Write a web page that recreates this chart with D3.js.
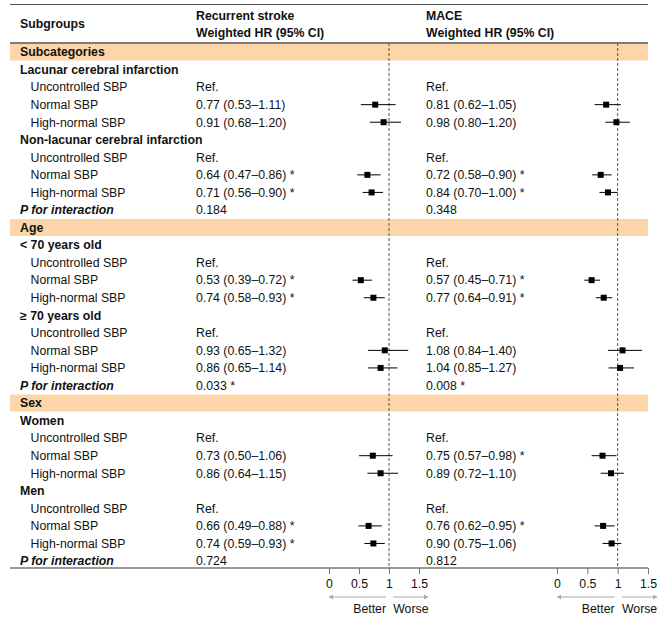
<!DOCTYPE html>
<html>
<head>
<meta charset="utf-8">
<script src="https://cdn.jsdelivr.net/npm/d3@7"></script>
<style>
  body { margin: 0; background: #fff; }
  svg text { font-family: "Liberation Sans", Arial, sans-serif; font-size: 12.3px; fill: #111; }
</style>
</head>
<body>
<svg id="forest" width="666" height="622"></svg>
<script>
// rows of the table
let rowLabels = ['Subcategories', 'Lacunar cerebral infarction', 'Uncontrolled SBP', 'Normal SBP', 'High-normal SBP',
    'Non-lacunar cerebral infarction', 'Uncontrolled SBP', 'Normal SBP', 'High-normal SBP', 'P for interaction',
    'Age', '< 70 years old', 'Uncontrolled SBP', 'Normal SBP', 'High-normal SBP',
    '\u2265 70 years old', 'Uncontrolled SBP', 'Normal SBP', 'High-normal SBP', 'P for interaction',
    'Sex', 'Women', 'Uncontrolled SBP', 'Normal SBP', 'High-normal SBP',
    'Men', 'Uncontrolled SBP', 'Normal SBP', 'High-normal SBP', 'P for interaction'];
let rowTypes = ['band', 'group', 'ref', 'hr', 'hr', 'group', 'ref', 'hr', 'hr', 'p',
    'band', 'group', 'ref', 'hr', 'hr', 'group', 'ref', 'hr', 'hr', 'p',
    'band', 'group', 'ref', 'hr', 'hr', 'group', 'ref', 'hr', 'hr', 'p'];

// recurrent stroke
let strokeHR = [null, null, null, 0.77, 0.91, null, null, 0.64, 0.71, null,
    null, null, null, 0.53, 0.74, null, null, 0.93, 0.86, null,
    null, null, null, 0.73, 0.86, null, null, 0.66, 0.74, null];
let strokeLo = [null, null, null, 0.53, 0.68, null, null, 0.47, 0.56, null,
    null, null, null, 0.39, 0.58, null, null, 0.65, 0.65, null,
    null, null, null, 0.50, 0.64, null, null, 0.49, 0.59, null];
let strokeHi = [null, null, null, 1.11, 1.20, null, null, 0.86, 0.90, null,
    null, null, null, 0.72, 0.93, null, null, 1.32, 1.14, null,
    null, null, null, 1.06, 1.15, null, null, 0.88, 0.93, null];
let strokeSig = [0, 0, 0, 0, 0, 0, 0, 1, 1, 0,
    0, 0, 0, 1, 1, 0, 0, 0, 0, 1,
    0, 0, 0, 0, 0, 0, 0, 1, 1, 0];
let strokeP = {9: '0.184', 19: '0.033', 29: '0.724'};

// MACE
let maceHR = [null, null, null, 0.81, 0.98, null, null, 0.72, 0.84, null,
    null, null, null, 0.57, 0.77, null, null, 1.08, 1.04, null,
    null, null, null, 0.75, 0.89, null, null, 0.76, 0.90, null];
let maceLo = [null, null, null, 0.62, 0.80, null, null, 0.58, 0.70, null,
    null, null, null, 0.45, 0.64, null, null, 0.84, 0.85, null,
    null, null, null, 0.57, 0.72, null, null, 0.62, 0.75, null];
let maceHi = [null, null, null, 1.05, 1.20, null, null, 0.90, 1.00, null,
    null, null, null, 0.71, 0.91, null, null, 1.40, 1.27, null,
    null, null, null, 0.98, 1.10, null, null, 0.95, 1.06, null];
let maceSig = [0, 0, 0, 0, 0, 0, 0, 1, 1, 0,
    0, 0, 0, 1, 1, 0, 0, 0, 0, 1,
    0, 0, 0, 1, 0, 0, 0, 1, 0, 0];
let maceP = {9: '0.348', 19: '0.008', 29: '0.812'};

let tickVals = [0, 0.5, 1, 1.5];

let svg = d3.select('#forest');
let left = 10, right = 648;
let axisY = 568;

let y = d3.scaleLinear().domain([0, rowLabels.length - 1]).range([52, 561]);
let xL = d3.scaleLinear().domain([0, 1.5]).range([329, 419]);
let xR = d3.scaleLinear().domain([0, 1.5]).range([557, 648]);

let fmt = d3.format('.2f');

// bands
svg.selectAll('.band')
    .data(rowLabels.map((d, i) => i).filter(i => rowTypes[i] == 'band'))
    .join('rect')
    .attr('class', 'band')
    .attr('x', left)
    .attr('width', right - left)
    .attr('y', d => y(d) - 8.5)
    .attr('height', 17)
    .style('fill', '#fcd6a9');

// top lines
svg.append('line').attr('x1', left).attr('x2', right).attr('y1', 4.5).attr('y2', 4.5)
    .attr('stroke', '#555').attr('stroke-width', 1.2);
svg.append('line').attr('x1', left).attr('x2', right).attr('y1', 43).attr('y2', 43)
    .attr('stroke', '#555').attr('stroke-width', 1.5);

// header
svg.append('text').attr('x', 20).attr('y', 24).attr('dy', '0.35em')
    .attr('font-weight', 'bold').text('Subgroups');
[['Recurrent stroke', 196], ['MACE', 426]].forEach(h => {
    svg.append('text').attr('x', h[1]).attr('y', 15.5).attr('dy', '0.35em')
        .attr('font-weight', 'bold').text(h[0]);
    svg.append('text').attr('x', h[1]).attr('y', 33).attr('dy', '0.35em')
        .attr('font-weight', 'bold').text('Weighted HR (95% CI)');
});

// row labels
svg.selectAll('.lab')
    .data(rowLabels)
    .join('text')
    .attr('class', 'lab')
    .attr('x', (d, i) => (rowTypes[i] == 'ref' || rowTypes[i] == 'hr') ? 30.5 : 20)
    .attr('y', (d, i) => y(i))
    .attr('dy', '0.35em')
    .attr('font-weight', (d, i) => (rowTypes[i] == 'ref' || rowTypes[i] == 'hr') ? 'normal' : 'bold')
    .attr('font-style', (d, i) => rowTypes[i] == 'p' ? 'italic' : 'normal')
    .text(d => d);

// one forest panel
function panel(hr, lo, hi, sig, pv, textX, x) {
    let texts = rowLabels.map((d, i) => {
        if (rowTypes[i] == 'ref') return 'Ref.';
        if (rowTypes[i] == 'hr') return fmt(hr[i]) + ' (' + fmt(lo[i]) + '\u2013' + fmt(hi[i]) + ')' + (sig[i] ? ' *' : '');
        if (rowTypes[i] == 'p') return pv[i] + (sig[i] ? ' *' : '');
        return '';
    });

    let g = svg.append('g');

    g.selectAll('text.val')
        .data(texts)
        .join('text')
        .attr('class', 'val')
        .attr('x', textX)
        .attr('y', (d, i) => y(i))
        .attr('dy', '0.35em')
        .text(d => d);

    // reference line at HR = 1
    g.append('line')
        .attr('x1', x(1)).attr('x2', x(1))
        .attr('y1', 43).attr('y2', axisY)
        .attr('stroke', '#555').attr('stroke-dasharray', '3,2');

    let idx = hr.map((d, i) => i).filter(i => hr[i] != null);

    g.selectAll('line.ci')
        .data(idx)
        .join('line')
        .attr('class', 'ci')
        .attr('x1', i => x(lo[i])).attr('x2', i => x(hi[i]))
        .attr('y1', i => y(i)).attr('y2', i => y(i))
        .attr('stroke', '#000');

    g.selectAll('rect.pt')
        .data(idx)
        .join('rect')
        .attr('class', 'pt')
        .attr('x', i => x(hr[i]) - 3)
        .attr('y', i => y(i) - 3)
        .attr('width', 6).attr('height', 6)
        .style('fill', '#000');

    // axis
    let ax = g.append('g')
        .attr('transform', 'translate(0,' + axisY + ')')
        .call(d3.axisBottom(x).tickValues(tickVals).tickSize(6).tickFormat(d3.format('')));
    ax.select('.domain').remove();
    ax.selectAll('line').attr('stroke', '#777');
    ax.selectAll('text').attr('font-size', '12.3px').attr('fill', '#111')
        .style('font-family', '"Liberation Sans", Arial, sans-serif').attr('dy', '0.9em');

    // arrows
    let ay = 597;
    [[0.95, 0], [1.07, 1.65]].forEach(a => {
        let x1 = x(a[0]), x2 = x(a[1]);
        let dir = x2 > x1 ? 1 : -1;
        g.append('line').attr('x1', x1).attr('x2', x2).attr('y1', ay).attr('y2', ay)
            .attr('stroke', '#aaa').attr('stroke-width', 1.2);
        g.append('path')
            .attr('d', 'M' + x2 + ',' + ay + 'l' + (-4 * dir) + ',-2.5l0,5z')
            .style('fill', '#aaa');
    });
    g.append('text').attr('x', x(0.95)).attr('y', 609).attr('dy', '0.35em')
        .attr('text-anchor', 'end').text('Better');
    g.append('text').attr('x', x(1.07)).attr('y', 609).attr('dy', '0.35em')
        .text('Worse');
}

panel(strokeHR, strokeLo, strokeHi, strokeSig, strokeP, 196, xL);
panel(maceHR, maceLo, maceHi, maceSig, maceP, 426, xR);

// bottom rule
svg.append('line').attr('x1', left).attr('x2', right).attr('y1', axisY).attr('y2', axisY)
    .attr('stroke', '#777').attr('stroke-width', 1.5);
</script>
</body>
</html>
